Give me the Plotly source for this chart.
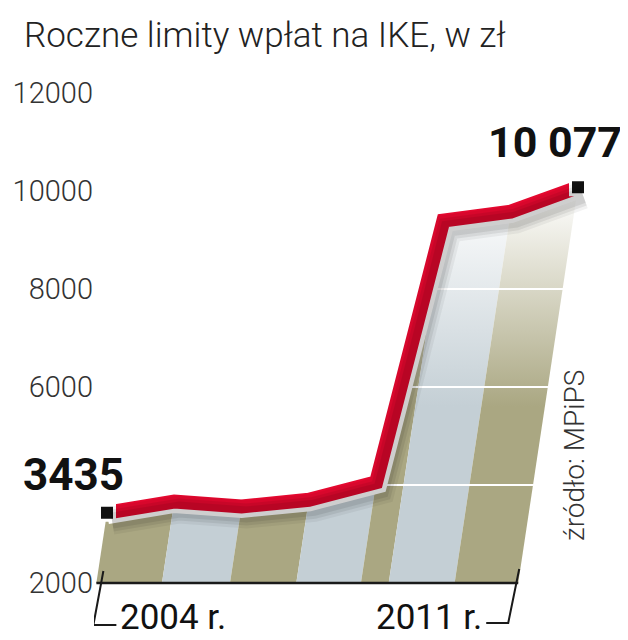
import plotly.graph_objects as go

# ---- data ----
years = [2004, 2005, 2006, 2007, 2008, 2009, 2010, 2011]
limits = [3435, 3663, 3562, 3697, 4055, 9396, 9579, 10077]
tick_vals = [2000, 6000, 8000, 10000, 12000]
tick_text = ["2000", "6000", "8000", "10000", "12000"]
grid_vals = [4000, 6000, 8000]
first_label = "3435"
last_label = "10 077"
year_labels = ["2004 r.", "2011 r."]
title_text = "Roczne limity wpłat na IKE, w zł"
source_text = "źródło: MPiPS"

# ---- style / geometry ----
W, H = 628, 640
M = dict(l=86, r=8, t=50, b=0)
BASE = 2000
SHEAR = 1.1e-4           # leftward lean of the stripes (years per zł of height)
X_RANGE = [2003.807, 2011.743]
Y_RANGE = [673, 12714]
OLIVE, LIGHT = "#aaa782", "#c4cfd5"
RED = "#e4082f"
FONT = "Roboto"

px_x = (W - M["l"] - M["r"]) / (X_RANGE[1] - X_RANGE[0])   # px per year
px_y = (H - M["t"] - M["b"]) / (Y_RANGE[1] - Y_RANGE[0])   # px per zł


def foot(x, v):
    return x - SHEAR * (v - BASE)


fig = go.Figure()

# striped area under the line
for i in range(len(years) - 1):
    x0, x1 = years[i], years[i + 1]
    v0, v1 = limits[i], limits[i + 1]
    c = OLIVE if i % 2 == 0 else LIGHT
    fig.add_trace(go.Scatter(
        x=[x0, x1, foot(x1, v1), foot(x0, v0), x0],
        y=[v0, v1, BASE, BASE, v0],
        mode="lines", line=dict(width=0), fill="toself",
        fillgradient=dict(type="vertical",
                          colorscale=[[0, c], [0.45, c], [1, "#ffffff"]],
                          start=BASE, stop=10000),
        hoverinfo="skip", showlegend=False))

# white grid lines (visible only over the stripes)
for g in grid_vals:
    fig.add_trace(go.Scatter(x=X_RANGE, y=[g, g], mode="lines",
                             line=dict(color="white", width=2),
                             hoverinfo="skip", showlegend=False))

# baseline and end brackets
x_left = foot(years[0], limits[0])
x_right = foot(years[-1], limits[-1])
ink = dict(color="#1a1a1a", width=2)
fig.add_trace(go.Scatter(x=[x_left, x_right], y=[BASE, BASE], mode="lines",
                         line=dict(color="#1a1a1a", width=2.5),
                         hoverinfo="skip", showlegend=False))
fig.add_trace(go.Scatter(
    x=[x_left + 7 / px_x, x_left - 3 / px_x, x_left + 20 / px_x],
    y=[BASE + 12 / px_y, BASE - 42 / px_y, BASE - 42 / px_y],
    mode="lines", line=ink, hoverinfo="skip", showlegend=False))
fig.add_trace(go.Scatter(
    x=[x_right + 1 / px_x, x_right - 10 / px_x, x_right - 32 / px_x],
    y=[BASE + 14 / px_y, BASE - 40 / px_y, BASE - 40 / px_y],
    mode="lines", line=ink, hoverinfo="skip", showlegend=False))

# soft shadow (drawn on slightly offset axes)
dx, dy = 5 / px_x, 8 / px_y
for w, a in [(28, 0.05), (22, 0.07), (16, 0.08)]:
    fig.add_trace(go.Scatter(x=years, y=limits, mode="lines",
                             xaxis="x2", yaxis="y2",
                             line=dict(color=f"rgba(0,0,0,{a})", width=w),
                             hoverinfo="skip", showlegend=False))

# white outline + red line
fig.add_trace(go.Scatter(x=years, y=limits, mode="lines",
                         line=dict(color="white", width=23),
                         hoverinfo="skip", showlegend=False))
fig.add_trace(go.Scatter(x=years, y=limits, mode="lines",
                         line=dict(color=RED, width=14),
                         hoverinfo="skip", showlegend=False))

# end markers
fig.add_trace(go.Scatter(x=[years[0], years[-1]], y=[limits[0], limits[-1]],
                         mode="markers", cliponaxis=False,
                         marker=dict(symbol="square", size=15, color="#111111",
                                     line=dict(color="white", width=3)),
                         hoverinfo="skip", showlegend=False))

annotations = [
    dict(x=years[0], y=limits[0], text=f"<b>{first_label}</b>", showarrow=False,
         xanchor="center", yanchor="middle", xshift=-33, yshift=38,
         font=dict(family=FONT, size=44, color="#111111")),
    dict(x=years[-1], y=limits[-1], text=f"<b>{last_label}</b>", showarrow=False,
         xanchor="right", yanchor="middle", xshift=46, yshift=45,
         font=dict(family=FONT, size=43, color="#111111")),
    dict(x=x_left, y=BASE, text=year_labels[0], showarrow=False,
         xanchor="left", yanchor="middle", xshift=22, yshift=-35,
         font=dict(family=FONT, size=35, color="#111111")),
    dict(x=x_right, y=BASE, text=year_labels[1], showarrow=False,
         xanchor="right", yanchor="middle", xshift=-34, yshift=-35,
         font=dict(family=FONT, size=35, color="#111111")),
    dict(x=years[-1], y=BASE, text=source_text, showarrow=False, textangle=-90,
         xanchor="center", yanchor="middle", xshift=-3, yshift=127,
         font=dict(family=FONT, size=28, color="#333333", weight=300)),
]

fig.update_layout(
    width=W, height=H,
    margin=M,
    paper_bgcolor="white", plot_bgcolor="white",
    showlegend=False,
    title=dict(text=title_text, x=16 / W, xanchor="left", xref="container",
               y=1 - 27 / H, yanchor="middle", yref="container",
               font=dict(family=FONT, size=35, color="#222222", weight=300)),
    xaxis=dict(range=X_RANGE, visible=False, fixedrange=True),
    yaxis=dict(range=Y_RANGE, tickvals=tick_vals, ticktext=tick_text,
               showgrid=False, zeroline=False, showline=False, ticks="",
               tickfont=dict(family=FONT, size=29, color="#333333", weight=300)),
    xaxis2=dict(range=[X_RANGE[0] - dx, X_RANGE[1] - dx], overlaying="x",
                visible=False),
    yaxis2=dict(range=[Y_RANGE[0] + dy, Y_RANGE[1] + dy], overlaying="y",
                visible=False),
    annotations=annotations,
)

fig.write_html("out.html")
